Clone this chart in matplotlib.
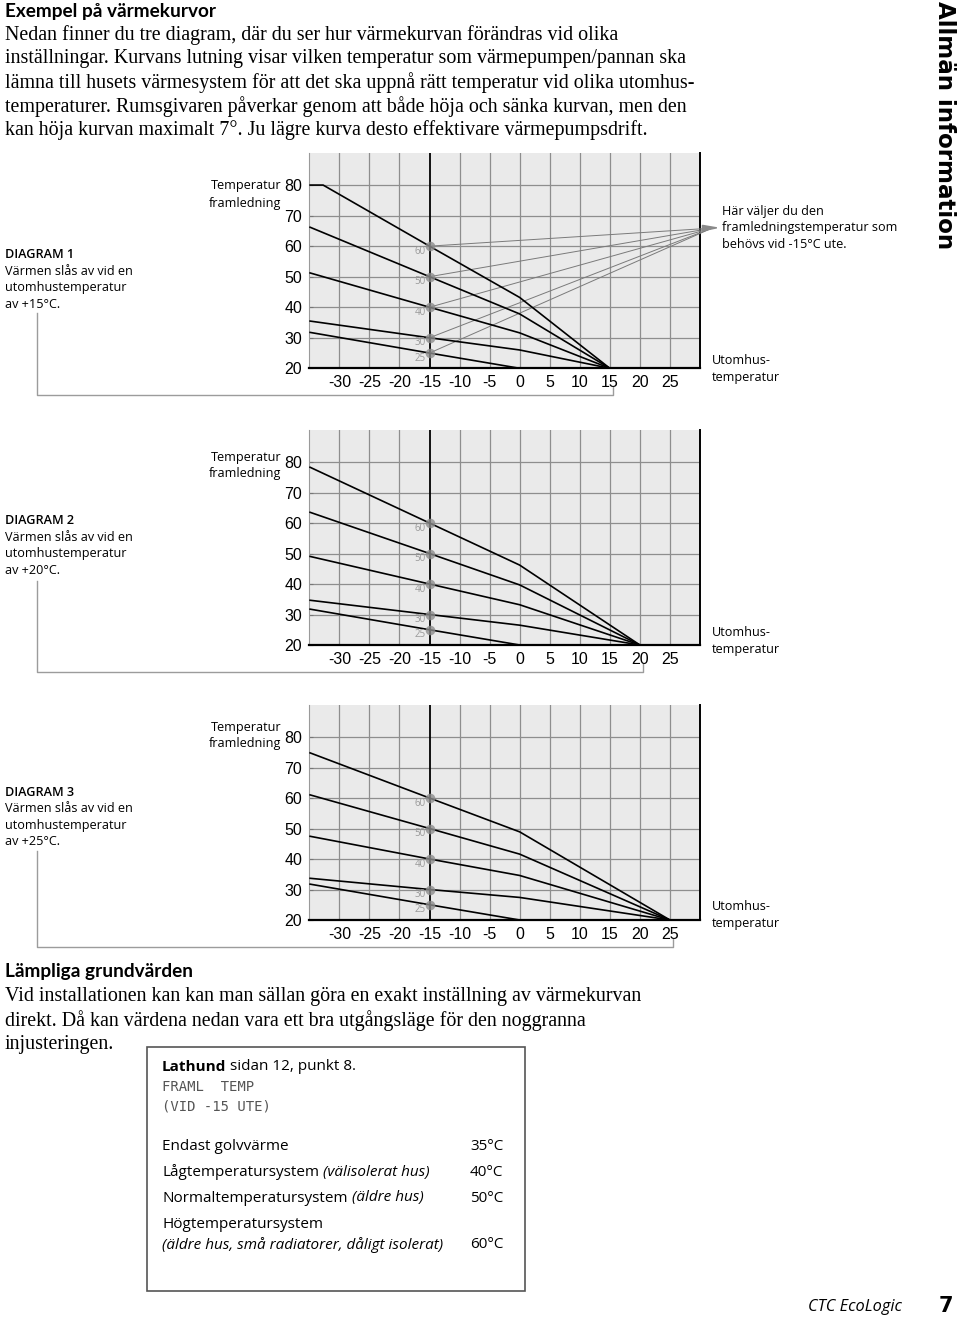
import numpy as np
import matplotlib
matplotlib.use("Agg")
from matplotlib import pyplot as plt
from matplotlib.patches import Rectangle, Polygon

# Fonts
SERIF = ["Liberation Serif", "DejaVu Serif"]
SANS = ["Open Sans", "DejaVu Sans"]
HEAD = ["Lato", "DejaVu Sans"]
NARROW = ["Liberation Sans Narrow", "Liberation Sans", "DejaVu Sans"]

# Data
X_TICKS = [-30, -25, -20, -15, -10, -5, 0, 5, 10, 15, 20, 25]
Y_TICKS = [20, 30, 40, 50, 60, 70, 80]
SETPOINTS = [60, 50, 40, 30, 25]          # supply temp at -15 C
SETPOINT_LABELS = ["60", "50", "40", "30", "25"]

OUTDOOR = [-35, -15, 0]                   # + stop temp appended per diagram

# diagram 1: stop at +15
D1_STOP = 15
D1_C60_X = [-35, -32.7, -15, 0, 15]
D1_C60_Y = [80, 80, 60, 43.2, 20]
D1_C50 = [66.3, 50, 37.8, 20]
D1_C40 = [51.3, 40, 31.6, 20]
D1_C30 = [35.5, 30, 26.0, 20]
D1_C25 = [31.8, 25, 20, 20]

# diagram 2: stop at +20
D2_STOP = 20
D2_C60 = [78.4, 60, 46.2, 20]
D2_C50 = [63.6, 50, 39.7, 20]
D2_C40 = [49.1, 40, 33.2, 20]
D2_C30 = [34.7, 30, 26.5, 20]
D2_C25 = [31.8, 25, 20, 20]

# diagram 3: stop at +25
D3_STOP = 25
D3_C60 = [74.9, 60, 48.9, 20]
D3_C50 = [61.1, 50, 41.6, 20]
D3_C40 = [47.5, 40, 34.6, 20]
D3_C30 = [33.7, 30, 27.4, 20]
D3_C25 = [31.8, 25, 20, 20]

# pointer target (diagram 1 only), in data units right of the chart
POINTER_X = 32.0
POINTER_Y = 65.9

SYSTEMS = ["Endast golvvärme", "Lågtemperatursystem", "Normaltemperatursystem", "Högtemperatursystem"]
SYSTEM_NOTES = ["", "(välisolerat hus)", "(äldre hus)", "(äldre hus, små radiatorer, dåligt isolerat)"]
SYSTEM_TEMPS = ["35°C", "40°C", "50°C", "60°C"]

INTRO = ["Nedan finner du tre diagram, där du ser hur värmekurvan förändras vid olika",
         "inställningar. Kurvans lutning visar vilken temperatur som värmepumpen/pannan ska",
         "lämna till husets värmesystem för att det ska uppnå rätt temperatur vid olika utomhus-",
         "temperaturer. Rumsgivaren påverkar genom att både höja och sänka kurvan, men den",
         "kan höja kurvan maximalt 7°. Ju lägre kurva desto effektivare värmepumpsdrift."]
OUTRO = ["Vid installationen kan kan man sällan göra en exakt inställning av värmekurvan",
         "direkt. Då kan värdena nedan vara ett bra utgångsläge för den noggranna",
         "injusteringen."]

W, H = 960, 1318
fig = plt.figure(figsize=(W / 100, H / 100), dpi=100)
page = fig.add_axes([0, 0, 1, 1])
page.set_xlim(0, W)
page.set_ylim(H, 0)
page.axis("off")
page.patch.set_visible(False)

LBL = 9.1     # small sans labels
BOX = 11.0    # text in the box
BODY = 14.4   # serif paragraphs


def make_axes(left, top, right, bottom):
    return fig.add_axes([left / W, 1 - bottom / H, (right - left) / W, (bottom - top) / H])


def draw_diagram(ax, stop, curves):
    ax.set_xlim(-35, 30)
    ax.set_ylim(20, 90.5)
    ax.set_facecolor("#eaeaea")
    for x in X_TICKS:
        if x == -15:
            ax.axvline(x, color="black", lw=1.3, zorder=2)
        else:
            ax.axvline(x, color="#8e8e8e", lw=0.9, zorder=1)
    for y in Y_TICKS[1:]:
        ax.axhline(y, color="#8e8e8e", lw=0.9, zorder=1)
    for xs, ys in curves:
        ax.plot(xs, ys, color="black", lw=1.2, zorder=4, solid_capstyle="butt")
    ax.scatter([-15] * len(SETPOINTS), SETPOINTS, s=48, color="#8c8c8c", alpha=0.8,
               zorder=5, linewidths=0)
    for v, lab in zip(SETPOINTS, SETPOINT_LABELS):
        ax.annotate(lab, (-15, v), xytext=(-4, -5), textcoords="offset pixels",
                    ha="right", va="center", fontsize=7, color="#9a9a9a", family=SANS,
                    zorder=6)
    ax.set_xticks(X_TICKS)
    ax.set_yticks(Y_TICKS)
    ax.set_xticklabels([str(x) for x in X_TICKS], family=NARROW, fontsize=11.5)
    ax.set_yticklabels([str(y) for y in Y_TICKS], family=NARROW, fontsize=11.5)
    ax.tick_params(axis="x", length=0, pad=5)
    ax.tick_params(axis="y", length=3, pad=5, color="#777777", direction="in")
    ax.spines["top"].set_visible(False)
    ax.spines["left"].set_color("#9a9a9a")
    ax.spines["left"].set_linewidth(0.8)
    ax.spines["right"].set_linewidth(1.4)
    ax.spines["bottom"].set_linewidth(1.6)


def std_curves(stop, rows):
    xs = OUTDOOR + [stop]
    return [(xs, r) for r in rows]


ax1 = make_axes(309.3, 153, 700, 368.3)
curves1 = [(D1_C60_X, D1_C60_Y)] + std_curves(D1_STOP, [D1_C50, D1_C40, D1_C30, D1_C25])
draw_diagram(ax1, D1_STOP, curves1)
# pointer lines from the setpoint dots to the note on the right
for v in SETPOINTS:
    ax1.plot([-15, POINTER_X], [v, POINTER_Y], color="#7a7a7a", lw=0.7, zorder=3, clip_on=False)
ax1.add_patch(Polygon([[POINTER_X - 1.6, POINTER_Y + 0.9], [POINTER_X - 1.6, POINTER_Y - 0.9],
                       [POINTER_X + 0.8, POINTER_Y + 0.1]], closed=True,
                      color="#8a8a8a", clip_on=False, zorder=3))

ax2 = make_axes(309.3, 430, 700, 645)
draw_diagram(ax2, D2_STOP, std_curves(D2_STOP, [D2_C60, D2_C50, D2_C40, D2_C30, D2_C25]))

ax3 = make_axes(309.3, 705, 700, 920)
draw_diagram(ax3, D3_STOP, std_curves(D3_STOP, [D3_C60, D3_C50, D3_C40, D3_C30, D3_C25]))

# page text
page.text(5, 12, "Exempel på värmekurvor", family=HEAD, weight="bold", fontsize=13.7, va="center")
for i, line in enumerate(INTRO):
    page.text(5, 35 + i * 23.8, line, family=SERIF, fontsize=BODY, va="center")

side = [
    (ax1, D1_STOP, 186, 255, "+15°C.", 1, 313, 360),
    (ax2, D2_STOP, 457, 521, "+20°C.", 2, 581, 632),
    (ax3, D3_STOP, 727, 792, "+25°C.", 3, 851, 906),
]
for ax, stop, ty, dy, txt, n, bt, uy in side:
    page.text(281, ty, "Temperatur", family=SANS, fontsize=LBL, ha="right", va="center")
    page.text(281, ty + 17, "framledning", family=SANS, fontsize=LBL, ha="right", va="center")
    page.text(5, dy, "DIAGRAM %d" % n, family=SANS, fontsize=LBL, va="center", weight="semibold")
    page.text(5, dy + 16.5, "Värmen slås av vid en", family=SANS, fontsize=LBL, va="center")
    page.text(5, dy + 33, "utomhustemperatur", family=SANS, fontsize=LBL, va="center")
    page.text(5, dy + 49.5, "av " + txt, family=SANS, fontsize=LBL, va="center")
    page.text(712, uy, "Utomhus-", family=SANS, fontsize=LBL, va="center")
    page.text(712, uy + 17, "temperatur", family=SANS, fontsize=LBL, va="center")
    # bracket from the diagram note to the stop temperature
    xs, yb = page.transData.inverted().transform(ax.transData.transform((stop, 20)))
    yline = yb + 27
    page.plot([37, 37, xs + 3, xs + 3], [bt, yline, yline, yline - 8],
              color="#9c9c9c", lw=1.0)

page.text(722, 211, "Här väljer du den", family=SANS, fontsize=LBL, va="center")
page.text(722, 228, "framledningstemperatur som", family=SANS, fontsize=LBL, va="center")
page.text(722, 245, "behövs vid -15°C ute.", family=SANS, fontsize=LBL, va="center")

page.text(945, 125, "Allmän information", family=["DejaVu Sans"], weight="bold", fontsize=16.6,
          rotation=-90, ha="center", va="center")

page.text(5, 972, "Lämpliga grundvärden", family=HEAD, weight="bold", fontsize=13.7, va="center")
for i, line in enumerate(OUTRO):
    page.text(5, 997 + i * 24, line, family=SERIF, fontsize=BODY, va="center")

# box with suggested values
page.add_patch(Rectangle((147, 1047), 378, 244, fill=False, edgecolor="#555555", lw=1.2))
t = page.text(162, 1067, "Lathund", family=SANS, weight="bold", fontsize=BOX, va="center")
page.annotate(" sidan 12, punkt 8.", xy=(1, 0), xycoords=t, va="bottom", ha="left",
              family=SANS, fontsize=BOX)
page.text(162, 1087, "FRAML  TEMP", family=["DejaVu Sans Mono"], fontsize=10, va="center",
          color="#555555")
page.text(162, 1107, "(VID -15 UTE)", family=["DejaVu Sans Mono"], fontsize=10, va="center",
          color="#555555")
row_y = [1146, 1172, 1198, 1225]
for name, note, temp, y in zip(SYSTEMS, SYSTEM_NOTES, SYSTEM_TEMPS, row_y):
    t = page.text(162, y, name, family=SANS, fontsize=BOX, va="center")
    if note and name != "Högtemperatursystem":
        page.annotate(" " + note, xy=(1, 0), xycoords=t, va="bottom", ha="left",
                      family=SANS, fontsize=BOX, style="italic")
        page.text(470, y, temp, family=SANS, fontsize=BOX, va="center")
    elif note:
        page.text(162, y + 20, note, family=SANS, fontsize=BOX, va="center", style="italic")
        page.text(470, y + 20, temp, family=SANS, fontsize=BOX, va="center")
    else:
        page.text(470, y, temp, family=SANS, fontsize=BOX, va="center")

page.text(808, 1307, "CTC EcoLogic", family=SANS, style="italic", fontsize=11.8, va="center")
page.text(946, 1306, "7", family=["DejaVu Sans"], weight="bold", fontsize=15, va="center", ha="center")

fig.savefig("out.png", dpi=100)
